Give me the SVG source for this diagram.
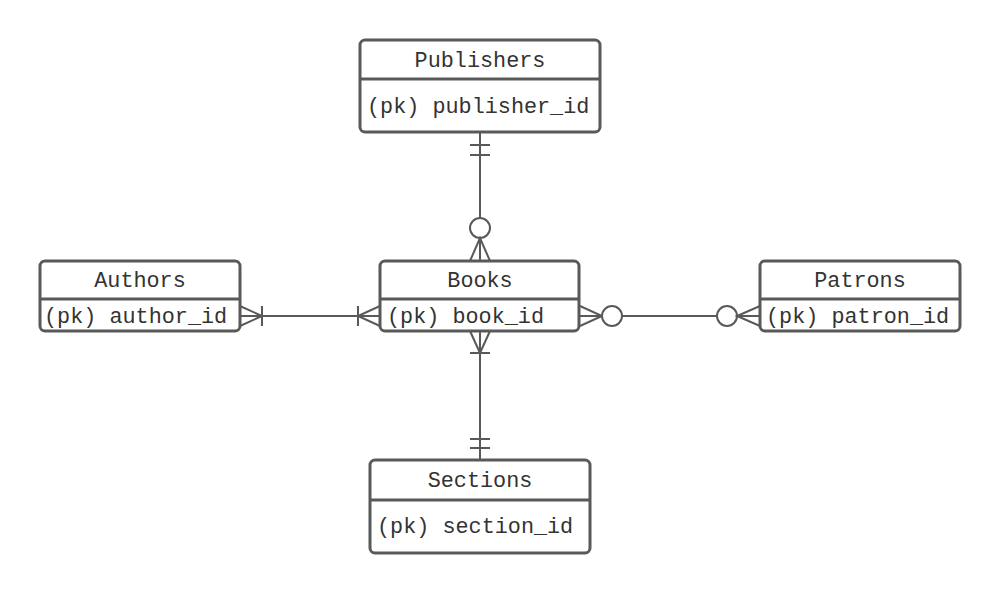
<svg xmlns="http://www.w3.org/2000/svg" width="1000" height="594" viewBox="0 0 1000 594">
<style>
.box{fill:#fff;stroke:#595959;stroke-width:3}
.div{stroke:#595959;stroke-width:3}
.t{font-family:"Liberation Mono","DejaVu Sans Mono",monospace;font-size:21.8px;fill:#333}
.h{text-anchor:middle}
.c{fill:none;stroke:#595959;stroke-width:2}
.o{fill:#fff;stroke:#595959;stroke-width:2}
</style>
<rect width="1000" height="594" fill="#fff"/>
<g id="connectors">
  <!-- Publishers - Books -->
  <line class="c" x1="480" y1="132" x2="480" y2="218"/>
  <line class="c" x1="470" y1="145" x2="490" y2="145"/>
  <line class="c" x1="470" y1="155" x2="490" y2="155"/>
  <circle class="o" cx="480" cy="228" r="10"/>
  <path class="c" d="M470 261 L480 238 L490 261 M480 238 L480 261"/>
  <!-- Books - Sections -->
  <line class="c" x1="480" y1="331" x2="480" y2="460"/>
  <path class="c" d="M470 331 L480 353 L490 331"/>
  <line class="c" x1="470" y1="353" x2="490" y2="353"/>
  <line class="c" x1="470" y1="439" x2="490" y2="439"/>
  <line class="c" x1="470" y1="448" x2="490" y2="448"/>
  <!-- Authors - Books -->
  <line class="c" x1="240" y1="316" x2="380" y2="316"/>
  <path class="c" d="M240 306 L262 316 L240 326"/>
  <line class="c" x1="262" y1="306" x2="262" y2="326"/>
  <path class="c" d="M380 306 L358 316 L380 326"/>
  <line class="c" x1="358" y1="306" x2="358" y2="326"/>
  <!-- Books - Patrons -->
  <line class="c" x1="580" y1="316" x2="760" y2="316"/>
  <path class="c" d="M580 306 L602 316 L580 326"/>
  <circle class="o" cx="612" cy="316" r="10"/>
  <circle class="o" cx="727" cy="316" r="10"/>
  <path class="c" d="M760 306 L737 316 L760 326"/>
</g>
<g id="publishers">
  <rect class="box" x="360" y="40" width="240" height="92" rx="5"/>
  <line class="div" x1="360" y1="79" x2="600" y2="79"/>
  <text class="t h" x="480" y="67">Publishers</text>
  <text class="t" x="367" y="113">(pk) publisher_id</text>
</g>
<g id="authors">
  <rect class="box" x="40" y="261" width="200" height="70" rx="5"/>
  <line class="div" x1="40" y1="299" x2="240" y2="299"/>
  <text class="t h" x="140" y="287">Authors</text>
  <text class="t" x="44" y="323">(pk) author_id</text>
</g>
<g id="books">
  <rect class="box" x="380" y="261" width="199" height="70" rx="5"/>
  <line class="div" x1="380" y1="299" x2="579" y2="299"/>
  <text class="t h" x="480" y="287">Books</text>
  <text class="t" x="387" y="323">(pk) book_id</text>
</g>
<g id="patrons">
  <rect class="box" x="760" y="261" width="200" height="70" rx="5"/>
  <line class="div" x1="760" y1="299" x2="960" y2="299"/>
  <text class="t h" x="860" y="287">Patrons</text>
  <text class="t" x="766" y="323">(pk) patron_id</text>
</g>
<g id="sections">
  <rect class="box" x="370" y="460" width="220" height="93" rx="5"/>
  <line class="div" x1="370" y1="500" x2="590" y2="500"/>
  <text class="t h" x="480" y="487">Sections</text>
  <text class="t" x="377" y="533">(pk) section_id</text>
</g>
</svg>
